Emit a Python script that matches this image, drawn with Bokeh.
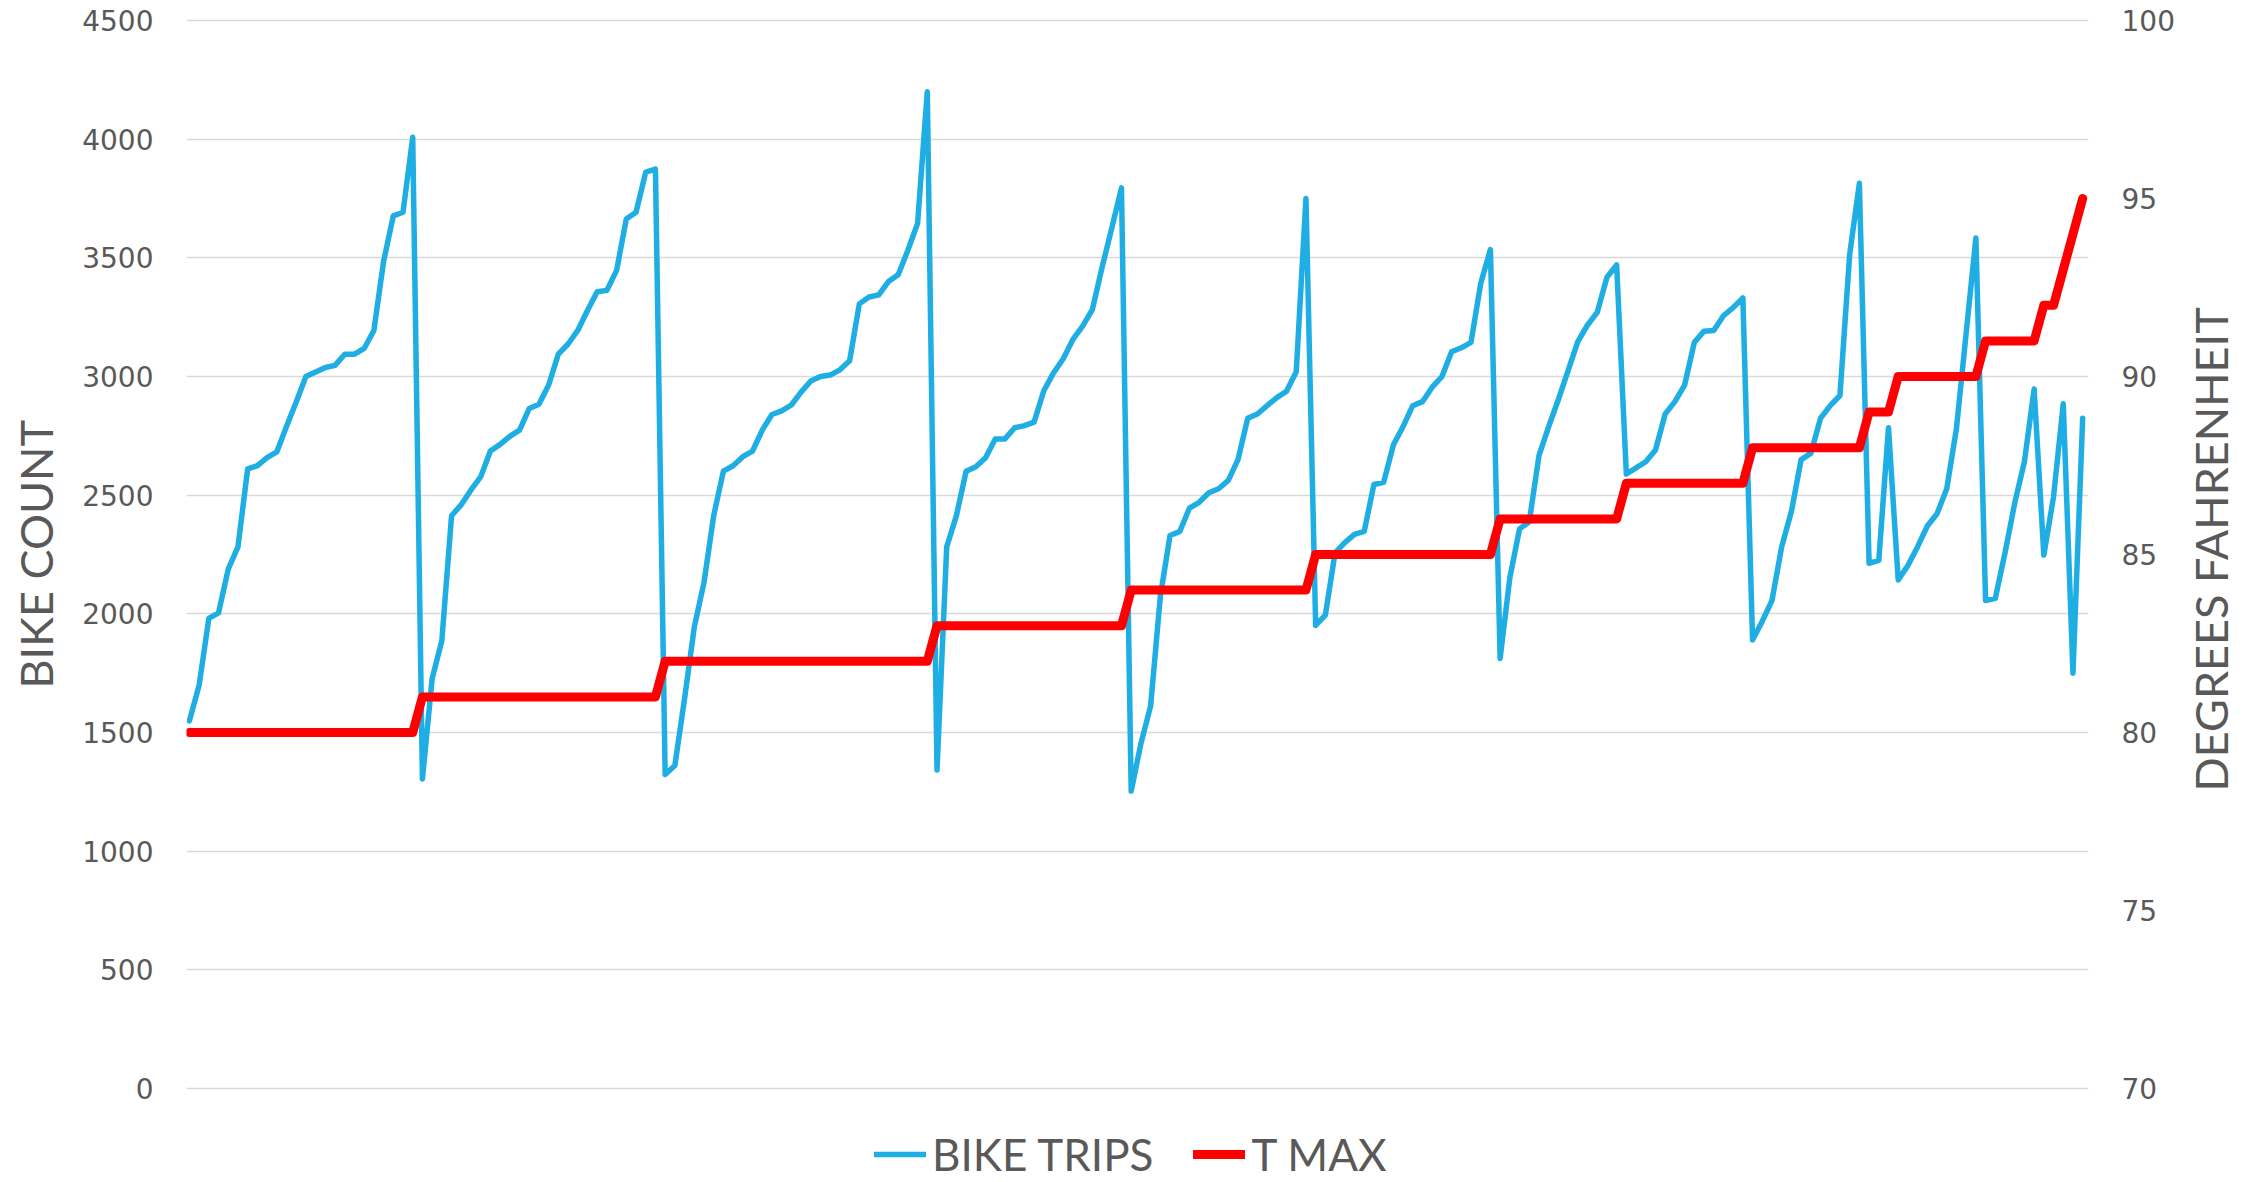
from bokeh.plotting import figure
from bokeh.layouts import row
from bokeh.models import Range1d, LinearAxis, Legend, LegendItem, FixedTicker, Title
from bokeh.embed import file_html
from bokeh.resources import INLINE

# Daily bike trips, sorted by max temperature then by count
BIKE_TRIPS = [
    # T MAX 80
    1549, 1699, 1981, 2004, 2188, 2282, 2611, 2624, 2658, 2682, 2789, 2893,
    3000, 3019, 3038, 3047, 3094, 3094, 3118, 3194, 3485, 3677, 3692, 4008,
    # T MAX 81
    1304, 1727, 1887, 2413, 2460, 2522, 2577, 2686, 2714, 2748, 2774, 2865,
    2883, 2964, 3094, 3137, 3194, 3278, 3357, 3363, 3447, 3664, 3692, 3861, 3874,
    # T MAX 82
    1323, 1361, 1643, 1944, 2132, 2414, 2601, 2624, 2662, 2686, 2774, 2840,
    2855, 2880, 2934, 2981, 3000, 3006, 3028, 3066, 3306, 3335, 3344, 3400,
    3429, 3532, 3645, 4200,
    # T MAX 83
    1342, 2282, 2414, 2601, 2620, 2658, 2737, 2737, 2784, 2793, 2808, 2940,
    3015, 3075, 3156, 3212, 3282, 3460, 3625, 3795,
    # T MAX 84
    1253, 1453, 1611, 2073, 2330, 2347, 2445, 2470, 2510, 2527, 2562, 2650,
    2824, 2842, 2877, 2911, 2938, 3020, 3750,
    # T MAX 85
    1951, 1995, 2257, 2300, 2335, 2347, 2545, 2554, 2711, 2789, 2877, 2894,
    2955, 2999, 3104, 3121, 3144, 3392, 3535,
    # T MAX 86
    1812, 2152, 2358, 2388, 2667, 2789, 2903, 3025, 3147, 3217, 3270, 3418, 3470,
    # T MAX 87
    2589, 2615, 2641, 2690, 2842, 2894, 2964, 3144, 3191, 3194, 3256, 3290, 3331,
    # T MAX 88
    1890, 1969, 2056, 2283, 2431, 2650, 2676, 2824, 2877, 2920, 3514, 3814,
    # T MAX 89
    2213, 2225, 2784,
    # T MAX 90
    2143, 2204, 2283, 2370, 2422, 2527, 2781, 3182, 3584,
    # T MAX 91
    2056, 2065, 2257, 2466, 2641, 2947,
    # T MAX 92..95
    2248, 2493, 2885, 1750, 2824,
]

T_MAX = [
    80, 80, 80, 80, 80, 80, 80, 80, 80, 80, 80, 80,
    80, 80, 80, 80, 80, 80, 80, 80, 80, 80, 80, 80,
    81, 81, 81, 81, 81, 81, 81, 81, 81, 81, 81, 81,
    81, 81, 81, 81, 81, 81, 81, 81, 81, 81, 81, 81, 81,
    82, 82, 82, 82, 82, 82, 82, 82, 82, 82, 82, 82,
    82, 82, 82, 82, 82, 82, 82, 82, 82, 82, 82, 82,
    82, 82, 82, 82,
    83, 83, 83, 83, 83, 83, 83, 83, 83, 83, 83, 83,
    83, 83, 83, 83, 83, 83, 83, 83,
    84, 84, 84, 84, 84, 84, 84, 84, 84, 84, 84, 84,
    84, 84, 84, 84, 84, 84, 84,
    85, 85, 85, 85, 85, 85, 85, 85, 85, 85, 85, 85,
    85, 85, 85, 85, 85, 85, 85,
    86, 86, 86, 86, 86, 86, 86, 86, 86, 86, 86, 86, 86,
    87, 87, 87, 87, 87, 87, 87, 87, 87, 87, 87, 87, 87,
    88, 88, 88, 88, 88, 88, 88, 88, 88, 88, 88, 88,
    89, 89, 89,
    90, 90, 90, 90, 90, 90, 90, 90, 90,
    91, 91, 91, 91, 91, 91,
    92, 92, 93, 94, 95,
]

LEFT_TICKS = [0, 500, 1000, 1500, 2000, 2500, 3000, 3500, 4000, 4500]
RIGHT_TICKS = [70, 75, 80, 85, 90, 95, 100]
LEFT_TITLE = "BIKE COUNT"
RIGHT_TITLE = "DEGREES FAHRENHEIT"

BLUE = "#1FAEE3"
RED = "#FF0000"
GREY = "#595959"

# ---- layout (pixels) ----
H = 1180
TOP = 18            # frame top
Y_TOP_PX = 20       # where 4500 / 100 sits
Y_ZERO_PX = 1088    # where 0 / 70 sits
STRIP_L = 65        # strip holding the left title
STRIP_R = 57        # strip holding the right title
AXIS_L = 121        # left tick-label border of main plot
AXIS_R = 94         # right tick-label border of main plot
FRAME_W = 1902

s = (LEFT_TICKS[-1] - LEFT_TICKS[0]) / (Y_ZERO_PX - Y_TOP_PX)
ymax = LEFT_TICKS[-1] + (Y_TOP_PX - TOP) * s
ymin = LEFT_TICKS[0] - (H - Y_ZERO_PX) * s
st = (RIGHT_TICKS[-1] - RIGHT_TICKS[0]) / (Y_ZERO_PX - Y_TOP_PX)
tmax = RIGHT_TICKS[-1] + (Y_TOP_PX - TOP) * st
tmin = RIGHT_TICKS[0] - (H - Y_ZERO_PX) * st

idx = list(range(len(BIKE_TRIPS)))

p = figure(
    width=AXIS_L + FRAME_W + AXIS_R, height=H,
    output_backend="svg", toolbar_location=None,
    x_range=Range1d(-0.3, len(BIKE_TRIPS) - 1 + 0.6),
    y_range=Range1d(ymin, ymax),
    x_axis_location=None,
    min_border_left=AXIS_L, min_border_right=AXIS_R,
    min_border_top=TOP, min_border_bottom=0,
)
p.extra_y_ranges = {"temp": Range1d(tmin, tmax)}
p.outline_line_color = None
p.background_fill_color = "white"
p.border_fill_color = "white"
p.xgrid.visible = False
p.ygrid.ticker = FixedTicker(ticks=LEFT_TICKS)
p.ygrid.grid_line_color = "#D9D9D9"
p.ygrid.grid_line_width = 1.5

def style_axis(ax):
    ax.axis_line_color = None
    ax.major_tick_line_color = None
    ax.minor_tick_line_color = None
    ax.major_label_text_font = "DejaVu Sans"
    ax.major_label_text_font_size = "28px"
    ax.major_label_text_color = GREY
    ax.major_label_standoff = 27

left = p.yaxis[0]
left.ticker = FixedTicker(ticks=LEFT_TICKS)
style_axis(left)

right = LinearAxis(y_range_name="temp", ticker=FixedTicker(ticks=RIGHT_TICKS))
style_axis(right)
p.add_layout(right, "right")

r1 = p.line(idx, BIKE_TRIPS, line_color=BLUE, line_width=5.5,
            line_join="round", line_cap="round")
r2 = p.line(idx, T_MAX, y_range_name="temp", line_color=RED, line_width=9,
            line_join="round", line_cap="round")

legend = Legend(
    items=[LegendItem(label="BIKE TRIPS", renderers=[r1]),
           LegendItem(label="T MAX", renderers=[r2])],
    orientation="horizontal", location=(688, 0),
    border_line_color=None, background_fill_alpha=0,
    label_text_font="Lato", label_text_font_size="44px",
    label_text_color=GREY, glyph_width=52, glyph_height=20,
    label_standoff=6, spacing=40, padding=0, margin=0,
)
p.add_layout(legend, "center")


def title_strip(text, width, offset):
    """Narrow plot whose only content is a vertical, bottom-to-top title."""
    q = figure(
        width=width, height=H,
        output_backend="svg", toolbar_location=None,
        x_range=Range1d(0, 1), y_range=Range1d(0, 1),
        x_axis_location=None, y_axis_location=None,
        min_border_left=width - 1, min_border_right=0,
        min_border_top=TOP, min_border_bottom=0,
    )
    q.outline_line_color = None
    q.grid.visible = False
    q.add_layout(Title(
        text=text, align="left", offset=offset, vertical_align="middle",
        standoff=2, text_font="Lato", text_font_size="45px",
        text_font_style="normal", text_color=GREY,
    ), "left")
    return q


p0 = title_strip(LEFT_TITLE, STRIP_L, H - 688)
p2 = title_strip(RIGHT_TITLE, STRIP_R, H - 791)

layout = row(p0, p, p2, spacing=0)

open("out.html", "w").write(file_html(layout, INLINE))
